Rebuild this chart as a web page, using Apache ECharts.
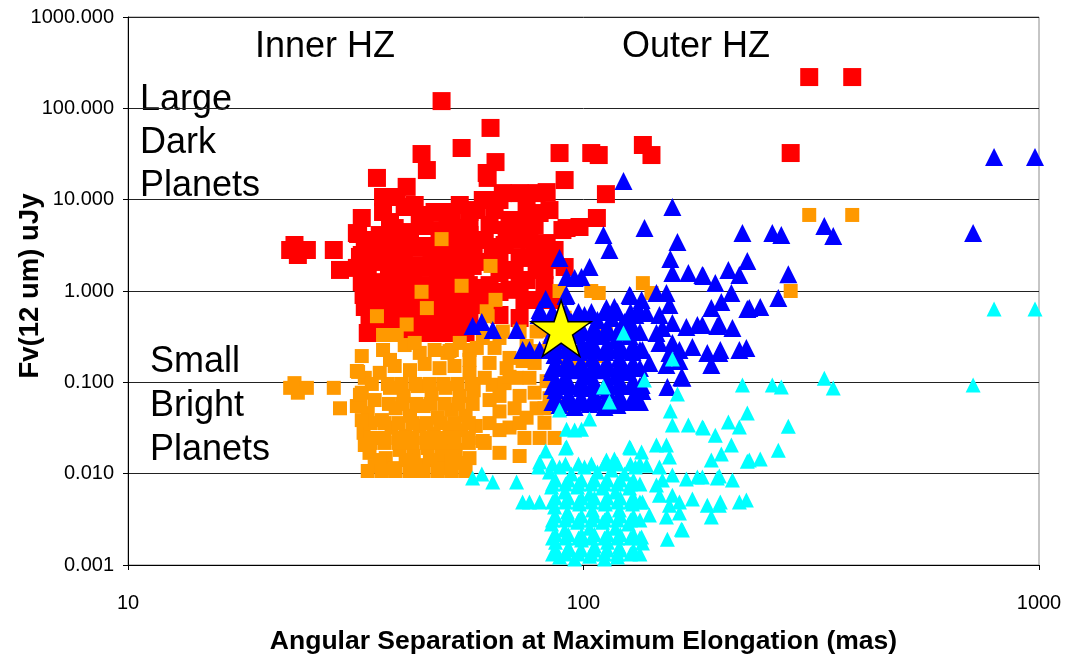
<!DOCTYPE html>
<html>
<head>
<meta charset="utf-8">
<title>Fv(12 um) vs Angular Separation</title>
<script src="https://cdn.jsdelivr.net/npm/echarts@6/dist/echarts.min.js"></script>
<style>
  html, body { margin: 0; padding: 0; background: #fff; }
  #chart { width: 1070px; height: 658px; }
</style>
</head>
<body>
<div id="chart"></div>
<script>
// Planets in the inner habitable zone: separation (mas), flux as large dark planet, flux as small bright planet (uJy)
const innerSep = [
  48.8, 62.5, 54.0, 44.1, 45.3, 64.1, 35.2, 40.9, 88.6, 104, 108, 135, 141, 61.6, 90.9, 313, 389, 285, 61.3, 36.3,
  38.9, 66.5, 72.4, 78.9, 83.0, 112, 36.3, 32.6, 31.8, 50.3, 58.3, 50.8, 80.1, 73.5, 107, 98, 91.8, 23.2, 24.7, 22.7,
  23.6, 28.3, 29.2, 31.8, 67.8, 71.3, 63.2, 83.0, 90.9, 78.9, 75.0, 65.4, 60.1, 50.8, 89.9, 33.1, 35.7, 38.5, 41.6, 44.8,
  48.3, 52.1, 56.2, 32.6, 34.8, 37.6, 40.3, 43.3, 46.4, 49.8, 53.5, 57.4, 33.6, 36.1, 38.7, 41.6, 44.6, 47.9, 51.4, 55.1,
  32.9, 35.3, 37.9, 40.7, 43.7, 46.9, 50.3, 54.0, 58.0, 33.9, 36.8, 39.5, 42.4, 45.5, 48.8, 52.4, 56.2, 34.8, 38.5, 43.3,
  48.3, 53.5, 62.2, 67.1, 72.4, 78.1, 84.2, 62.2, 68.8, 74.2, 82.1, 86.4, 65.4, 72.4, 68.8, 49.0, 65.4, 60.7, 51.4, 56.2,
  60.1, 40.5, 43.7, 65.4, 75.0,
  34.3, 37.2, 39.9, 42.8, 46.0, 49.3, 52.9, 56.8,
  32.4, 37.4, 40.1, 43.0, 46.2, 49.6, 53.2, 57.1,
  34.1, 36.6, 39.3, 42.2, 45.3, 48.6, 52.1, 56.0,
  34.1, 36.6, 39.3, 42.2, 45.3, 48.6, 52.1, 56.0,
  35.7, 40.7, 46.0, 51.4,
  60.7, 65.4, 70.6, 76.1, 82.1, 86.4, 62.2, 72.4, 80.1,
  42.6, 47.1, 53.5, 63.8, 68.8, 78.1, 84.2, 56.2, 37.6,
  33.6, 36.1, 38.7, 41.6, 44.6, 47.9, 51.4, 55.1,
  34.1, 36.6, 39.3, 42.2, 45.3, 48.6, 52.1, 56.0,
  32.0, 32.3, 32.6, 33.1
];
const innerDark = [
  120, 61, 36.8, 31.6, 21.1, 25.8, 17.3, 13.8, 32.4, 32.4, 30.8, 39.7, 30.8, 17.3, 16.4, 220, 220, 32.4, 19.6, 10.7,
  10.7, 11.8, 11.8, 11.8, 12.1, 11.5, 7.33, 6.30, 4.31, 6.79, 7.70, 7.14, 7.14, 5.55, 6.30, 5.02, 4.89, 3.19, 2.81, 2.81,
  2.48, 2.81, 1.70, 1.79, 4.65, 3.62, 3.03, 3.35, 1.83, 1.70, 1.32, 1.57, 0.739, 1.03, 4.65, 3.62, 4.10, 4.89, 4.42, 5.15,
  4.65, 4.89, 4.10, 2.48, 2.08, 2.81, 2.30, 2.96, 2.42, 2.81, 2.30, 2.67, 1.50, 1.25, 1.70, 1.39, 1.79, 1.32, 1.61, 1.39,
  0.904, 0.797, 1.03, 0.838, 1.08, 0.882, 0.797, 0.975, 1.08, 0.546, 0.481, 0.589, 0.506, 0.619, 0.506, 0.589, 0.481, 0.393, 0.374, 0.403,
  0.374, 0.424, 5.28, 3.19, 2.30, 2.48, 2.18, 2.08, 1.03, 0.797, 1.16, 0.797, 0.546, 0.506, 3.72, 0.635, 0.975, 0.702, 7.33, 7.33,
  9.92, 8.31, 6.79, 9.92, 8.1,
  3.11, 3.11, 3.11, 3.11, 3.11, 3.11, 3.11, 3.11,
  1.88, 1.88, 1.88, 1.88, 1.88, 1.88, 1.88, 1.88,
  1.16, 1.16, 1.16, 1.16, 1.16, 1.16, 1.16, 1.16,
  0.702, 0.702, 0.702, 0.702, 0.702, 0.702, 0.702, 0.702,
  0.458, 0.458, 0.458, 0.458,
  3.62, 2.30, 1.70, 3.62, 1.70, 2.81, 1.16, 1.16, 0.797,
  8.74, 7.33, 8.74, 7.70, 5.99, 5.28, 7.70, 5.69, 5.69,
  0.347, 0.347, 0.347, 0.347, 0.347, 0.347, 0.347, 0.347,
  0.797, 0.797, 0.797, 0.797, 0.797, 0.797, 0.797, 0.797,
  4.21, 2.36, 1.25, 0.668
];
const innerBright = [
  3.7, 1.88, 1.14, 0.98, 0.65, 0.80, 0.53, 0.43, 1.0, 1.0, 0.95, 1.22, 0.95, 0.53, 0.51, 6.8, 6.8, 1.0, 0.60, 0.33,
  0.33, 0.36, 0.36, 0.36, 0.37, 0.355, 0.226, 0.194, 0.133, 0.21, 0.238, 0.22, 0.22, 0.171, 0.194, 0.155, 0.151, 0.098, 0.087, 0.087,
  0.077, 0.087, 0.052, 0.055, 0.143, 0.112, 0.094, 0.103, 0.056, 0.052, 0.041, 0.048, 0.0228, 0.032, 0.143, 0.112, 0.127, 0.151, 0.136, 0.159,
  0.143, 0.151, 0.127, 0.077, 0.064, 0.087, 0.071, 0.091, 0.075, 0.087, 0.071, 0.082, 0.046, 0.0386, 0.052, 0.043, 0.055, 0.041, 0.050, 0.043,
  0.028, 0.0246, 0.032, 0.0259, 0.0333, 0.0272, 0.0246, 0.030, 0.0333, 0.0169, 0.0148, 0.0182, 0.0156, 0.0191, 0.0156, 0.0182, 0.0148, 0.0121, 0.0115, 0.0124,
  0.0115, 0.0131, 0.163, 0.098, 0.071, 0.077, 0.067, 0.064, 0.032, 0.0246, 0.036, 0.0246, 0.0169, 0.0156, 0.115, 0.0196, 0.030, 0.0217, 0.226, 0.226,
  0.306, 0.256, 0.21, 0.306, 0.25,
  0.096, 0.096, 0.096, 0.096, 0.096, 0.096, 0.096, 0.096,
  0.058, 0.058, 0.058, 0.058, 0.058, 0.058, 0.058, 0.058,
  0.0358, 0.0358, 0.0358, 0.0358, 0.0358, 0.0358, 0.0358, 0.0358,
  0.0217, 0.0217, 0.0217, 0.0217, 0.0217, 0.0217, 0.0217, 0.0217,
  0.0141, 0.0141, 0.0141, 0.0141,
  0.112, 0.071, 0.052, 0.112, 0.052, 0.087, 0.0358, 0.0358, 0.0246,
  0.27, 0.226, 0.27, 0.238, 0.185, 0.163, 0.238, 0.176, 0.176,
  0.0107, 0.0107, 0.0107, 0.0107, 0.0107, 0.0107, 0.0107, 0.0107,
  0.0246, 0.0246, 0.0246, 0.0246, 0.0246, 0.0246, 0.0246, 0.0246,
  0.13, 0.073, 0.0386, 0.0206
];

// Planets in the outer habitable zone: separation (mas), flux as large dark planet, flux as small bright planet (uJy)
const outerSep = [
  122.4, 156.7, 136.1, 110.6, 114.0, 160.8, 223.3, 259.7, 271.8, 337.8, 353.4, 716.7, 796.8, 979.9, 228.9, 155.1, 88.6, 103.1, 91.8, 95.6,
  99.0, 156.7, 169.9, 182.4, 208.0, 219.9, 194.7, 183.3, 281.6, 211.2, 200.7, 190.8, 228.9, 244.4, 267.7, 182.4, 198.7, 212.3, 227.8, 199.7,
  187.0, 190.8, 82.6, 91.8, 126.2, 144.6, 152.1, 134.1, 57.1, 59.8, 63.2, 71.3, 73.5, 76.1, 80.1, 80.1, 112.3, 116.9, 231.2, 177.8,
  168.2, 154.4, 162.4, 173.4, 164.0, 152.8, 144.6, 134.7, 126.8, 137.5, 146.8, 154.4, 156.7, 196.7, 149.0, 146.8, 156.7, 198.7, 219.9, 162.4,
  152.1, 139.5, 164.9, 134.1, 134.7, 128.1, 91.3, 79.7, 84.2, 88.6, 94.1, 100.5, 107.3, 115.2, 123.0, 130.0, 85.1, 90.9, 97.0, 103.1,
  110.1, 117.5, 126.2, 86.4, 92.2, 98.0, 104.6, 111.7, 119.9, 128.1, 85.1, 90.9, 97.0, 103.1, 110.1, 117.5, 125.5, 86.8, 92.7, 99.0,
  105.7, 112.9, 119.9, 88.6, 95.6, 103.1, 111.2, 118.7,
  86.8, 92.7, 99.0, 105.7, 112.9, 120.5, 128.7,
  86.8, 92.7, 99.0, 105.7, 112.9, 120.5, 128.7,
  86.8, 92.7, 99.0, 105.7, 112.9, 120.5, 128.7,
  86.8, 92.7, 99.0, 105.7, 112.9, 120.5, 128.7,
  86.8, 92.7, 99.0, 105.7, 112.9, 120.5, 128.7,
  85.5, 91.3, 97.5, 104.1, 111.2, 118.7, 126.8, 133.0,
  85.5, 91.3, 97.5, 104.1, 111.2, 118.7, 126.8, 133.0,
  85.5, 91.3, 97.5, 104.1, 111.2, 118.7, 126.8, 133.0,
  85.5, 91.3, 97.5, 104.1, 111.2, 118.7, 126.8, 133.0,
  85.5, 91.3, 97.5, 104.1, 111.2, 118.7, 126.8, 133.0,
  85.5, 91.3, 97.5, 104.1, 111.2, 118.7, 126.8, 133.0
];
const outerDark = [
  16.0, 8.31, 4.89, 4.10, 2.81, 3.44, 4.31, 4.31, 4.10, 5.15, 4.00, 4.31, 29.3, 29.3, 2.13, 2.24, 2.30, 1.83, 1.42, 1.39,
  1.42, 1.57, 1.57, 1.50, 1.70, 1.50, 1.22, 1.46, 1.53, 0.951, 0.758, 0.651, 0.635, 0.668, 0.838, 0.424, 0.435, 0.393, 0.238, 0.226,
  0.209, 0.155, 0.817, 0.904, 0.904, 0.951, 0.951, 0.797, 0.414, 0.458, 0.374, 0.374, 0.226, 0.226, 0.226, 0.619, 0.651, 0.668, 0.651, 0.424,
  0.403, 0.209, 0.226, 0.244, 0.114, 0.0889, 0.347, 0.226, 0.882, 0.574, 0.546, 0.702, 0.446, 0.414, 0.393, 0.269, 0.269, 0.209, 0.226, 0.171,
  0.155, 0.163, 0.112, 0.0935, 0.0804, 0.064, 0.882, 0.546, 0.481, 0.546, 0.458, 0.546, 0.481, 0.506, 0.458, 0.546, 0.330, 0.291, 0.330, 0.276,
  0.321, 0.291, 0.321, 0.199, 0.176, 0.215, 0.185, 0.215, 0.185, 0.215, 0.130, 0.112, 0.136, 0.117, 0.136, 0.117, 0.130, 0.0824, 0.0726, 0.0867,
  0.0745, 0.0824, 0.0726, 0.0565, 0.0537, 0.0579, 0.0537, 0.0565,
  0.393, 0.393, 0.393, 0.393, 0.393, 0.393, 0.393,
  0.250, 0.250, 0.250, 0.250, 0.250, 0.250, 0.250,
  0.159, 0.159, 0.159, 0.159, 0.159, 0.159, 0.159,
  0.100, 0.100, 0.100, 0.100, 0.100, 0.100, 0.100,
  0.0673, 0.0673, 0.0673, 0.0673, 0.0673, 0.0673, 0.0673,
  0.589, 0.589, 0.589, 0.589, 0.589, 0.589, 0.589, 0.589,
  0.356, 0.356, 0.356, 0.356, 0.356, 0.356, 0.356, 0.356,
  0.226, 0.226, 0.226, 0.226, 0.226, 0.226, 0.226, 0.226,
  0.1435, 0.1435, 0.1435, 0.1435, 0.1435, 0.1435, 0.1435, 0.1435,
  0.0912, 0.0912, 0.0912, 0.0912, 0.0912, 0.0912, 0.0912, 0.0912,
  0.0609, 0.0609, 0.0609, 0.0609, 0.0609, 0.0609, 0.0609, 0.0609
];
const outerBright = [
  0.346, 0.180, 0.106, 0.0888, 0.0608, 0.0745, 0.0933, 0.0933, 0.0888, 0.111, 0.0866, 0.0933, 0.634, 0.634, 0.0461, 0.0485, 0.0498, 0.0396, 0.0307, 0.0301,
  0.0307, 0.034, 0.034, 0.0325, 0.0368, 0.0325, 0.0264, 0.0316, 0.0331, 0.0206, 0.0164, 0.0141, 0.0137, 0.0145, 0.0181, 0.00918, 0.00942, 0.00851, 0.00515, 0.00489,
  0.00452, 0.00335, 0.0177, 0.0196, 0.0196, 0.0206, 0.0206, 0.0173, 0.00896, 0.00991, 0.0081, 0.0081, 0.00489, 0.00489, 0.00489, 0.0134, 0.0141, 0.0145, 0.0141, 0.00918,
  0.00872, 0.00452, 0.00489, 0.00528, 0.00247, 0.00192, 0.00751, 0.00489, 0.0191, 0.0124, 0.0118, 0.0152, 0.00965, 0.00896, 0.00851, 0.00582, 0.00582, 0.00452, 0.00489, 0.0037,
  0.00335, 0.00353, 0.00242, 0.00202, 0.00174, 0.00139, 0.0191, 0.0118, 0.0104, 0.0118, 0.00991, 0.0118, 0.0104, 0.011, 0.00991, 0.0118, 0.00714, 0.0063, 0.00714, 0.00597,
  0.00695, 0.0063, 0.00695, 0.00431, 0.00381, 0.00465, 0.004, 0.00465, 0.004, 0.00465, 0.00281, 0.00242, 0.00294, 0.00253, 0.00294, 0.00253, 0.00281, 0.00178, 0.00157, 0.00188,
  0.00161, 0.00178, 0.00157, 0.00122, 0.00116, 0.00125, 0.00116, 0.00122,
  0.00851, 0.00851, 0.00851, 0.00851, 0.00851, 0.00851, 0.00851,
  0.00541, 0.00541, 0.00541, 0.00541, 0.00541, 0.00541, 0.00541,
  0.00344, 0.00344, 0.00344, 0.00344, 0.00344, 0.00344, 0.00344,
  0.00216, 0.00216, 0.00216, 0.00216, 0.00216, 0.00216, 0.00216,
  0.00146, 0.00146, 0.00146, 0.00146, 0.00146, 0.00146, 0.00146,
  0.01275, 0.01275, 0.01275, 0.01275, 0.01275, 0.01275, 0.01275, 0.01275,
  0.0077, 0.0077, 0.0077, 0.0077, 0.0077, 0.0077, 0.0077, 0.0077,
  0.00489, 0.00489, 0.00489, 0.00489, 0.00489, 0.00489, 0.00489, 0.00489,
  0.00311, 0.00311, 0.00311, 0.00311, 0.00311, 0.00311, 0.00311, 0.00311,
  0.00197, 0.00197, 0.00197, 0.00197, 0.00197, 0.00197, 0.00197, 0.00197,
  0.00132, 0.00132, 0.00132, 0.00132, 0.00132, 0.00132, 0.00132, 0.00132
];

// Reference point marked with a star
const starSep = [89.3];
const starFlux = [0.39];

const FONT = '"Liberation Sans", Arial, Helvetica, sans-serif';

function pairs(xs, ys) {
  return xs.map((x, i) => [x, ys[i]]);
}

const STAR_PATH = 'path://M0,-1 L0.2245,-0.309 L0.951,-0.309 L0.3633,0.118 L0.588,0.809 L0,0.382 L-0.588,0.809 L-0.3633,0.118 L-0.951,-0.309 L-0.2245,-0.309 Z';

function label(text, x, y) {
  return {
    type: 'text',
    x: x, y: y,
    silent: true,
    style: {
      text: text,
      font: '36px ' + FONT,
      fill: '#000',
      align: 'left', verticalAlign: 'middle',
      textAlign: 'left', textVerticalAlign: 'middle'
    }
  };
}

const chart = echarts.init(document.getElementById('chart'), null, { renderer: 'canvas' });

chart.setOption({
  animation: false,
  backgroundColor: '#fff',
  grid: {
    left: 128, right: 31, top: 17, bottom: 93,
    show: true, borderColor: '#8c8c8c', borderWidth: 1,
    containLabel: false,
    outerBoundsMode: 'none'
  },
  xAxis: {
    type: 'log', logBase: 10, min: 10, max: 1000, splitNumber: 2,
    name: 'Angular Separation at Maximum Elongation (mas)',
    nameLocation: 'middle', nameGap: 63, nameMoveOverlap: false,
    nameTextStyle: { fontFamily: FONT, fontSize: 26.5, fontWeight: 'bold', color: '#000' },
    axisLine: { show: true, lineStyle: { color: '#000', width: 1 } },
    axisTick: { show: true, length: 5, lineStyle: { color: '#000' } },
    axisLabel: {
      fontFamily: FONT, fontSize: 20, color: '#000', margin: 28,
      formatter: v => String(Math.round(v))
    },
    splitLine: { show: false }
  },
  yAxis: {
    type: 'log', logBase: 10, min: 0.001, max: 1000, splitNumber: 6,
    name: 'Fv(12 um) uJy',
    nameLocation: 'middle', nameGap: 84, nameRotate: 90, nameMoveOverlap: false,
    nameTextStyle: { fontFamily: FONT, fontSize: 27.5, fontWeight: 'bold', color: '#000', padding: [0, 0, 0, 10] },
    axisLine: { show: true, lineStyle: { color: '#000', width: 1 } },
    axisTick: { show: true, length: 5, lineStyle: { color: '#000' } },
    axisLabel: {
      fontFamily: FONT, fontSize: 20, color: '#000', margin: 14,
      formatter: v => Number(v).toFixed(3)
    },
    splitLine: { show: true, lineStyle: { color: '#222', width: 1 } }
  },
  series: [
    {
      name: 'Large Dark Planets (inner HZ)', type: 'scatter',
      symbol: 'rect', symbolSize: 18,
      itemStyle: { color: '#ff0000', opacity: 1 },
      data: pairs(innerSep, innerDark), z: 2
    },
    {
      name: 'Small Bright Planets (inner HZ)', type: 'scatter',
      symbol: 'rect', symbolSize: 14,
      itemStyle: { color: '#ff9900', opacity: 1 },
      data: pairs(innerSep, innerBright), z: 3
    },
    {
      name: 'Large Dark Planets (outer HZ)', type: 'scatter',
      symbol: 'triangle', symbolSize: 18,
      itemStyle: { color: '#0000ff', opacity: 1 },
      data: pairs(outerSep, outerDark), z: 4
    },
    {
      name: 'Small Bright Planets (outer HZ)', type: 'scatter',
      symbol: 'triangle', symbolSize: 15,
      itemStyle: { color: '#00ffff', opacity: 1 },
      data: pairs(outerSep, outerBright), z: 5
    },
    {
      name: 'Reference', type: 'scatter',
      symbol: STAR_PATH, symbolSize: [60, 56],
      itemStyle: { color: '#ffff00', borderColor: '#000', borderWidth: 1.5, opacity: 1 },
      data: pairs(starSep, starFlux), z: 6
    }
  ],
  graphic: [
    label('Inner HZ', 255, 47),
    label('Outer HZ', 622, 47),
    label('Large', 140, 100),
    label('Dark', 140, 143),
    label('Planets', 140, 186),
    label('Small', 150, 362),
    label('Bright', 150, 406),
    label('Planets', 150, 450)
  ]
});
</script>
</body>
</html>
